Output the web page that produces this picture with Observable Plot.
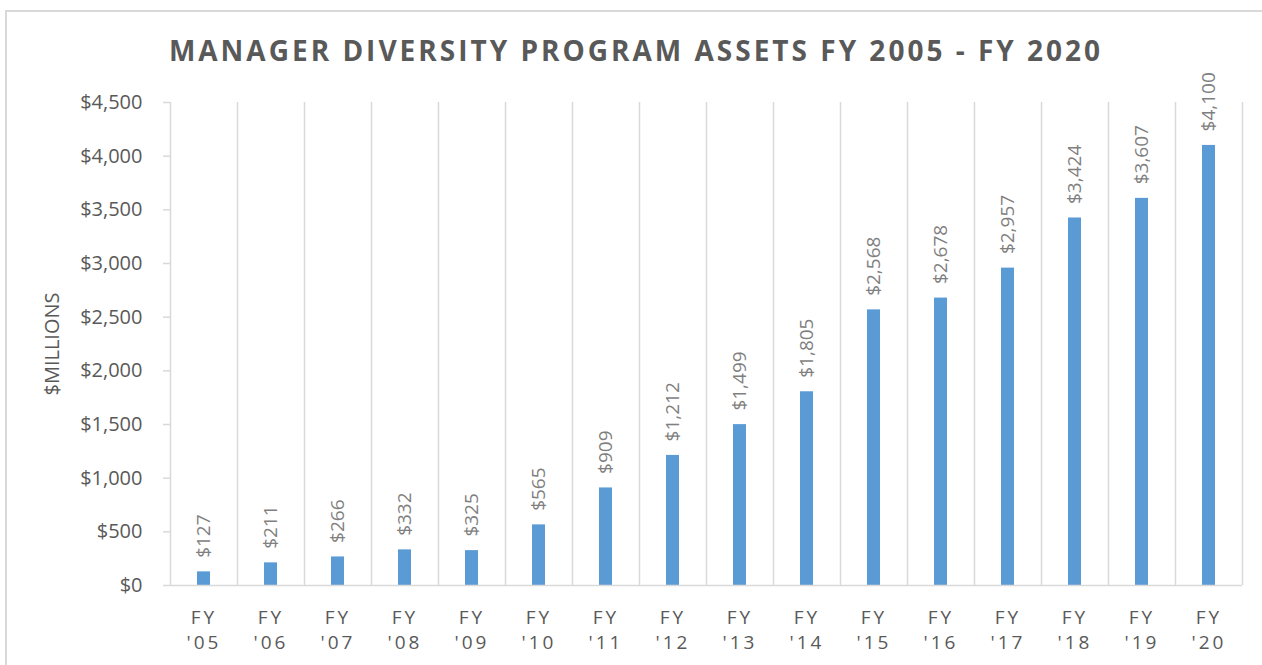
<!DOCTYPE html>
<html>
<head>
<meta charset="utf-8">
<script src="https://cdn.jsdelivr.net/npm/d3@7"></script>
<script src="https://cdn.jsdelivr.net/npm/@observablehq/plot@0.6"></script>
<style>
html, body { margin: 0; padding: 0; background: #fff; }
#wrap { position: relative; width: 1262px; height: 665px; overflow: hidden; font-family: "Open Sans", sans-serif; }
#border { position: absolute; left: 5px; top: 10px; width: 1300px; height: 700px; border: 2px solid #d9d9d9; box-sizing: border-box; pointer-events: none; }
#title { position: absolute; left: 0; top: 30px; width: 1272px; text-align: center; font-weight: 700; font-size: 28px; letter-spacing: 3px; color: #595959; line-height: 40px; white-space: nowrap; }
</style>
</head>
<body>
<div id="wrap">
  <div id="chart"></div>
  <div id="border"></div>
  <div id="title"></div>
</div>
<script>
const titleText = "MANAGER DIVERSITY PROGRAM ASSETS FY 2005 - FY 2020";
const yLabel = "$MILLIONS";
const years = ["FY '05", "FY '06", "FY '07", "FY '08", "FY '09", "FY '10", "FY '11", "FY '12",
               "FY '13", "FY '14", "FY '15", "FY '16", "FY '17", "FY '18", "FY '19", "FY '20"];
const assets = [127, 211, 266, 332, 325, 565, 909, 1212, 1499, 1805, 2568, 2678, 2957, 3424, 3607, 4100];
const yTicks = [0, 500, 1000, 1500, 2000, 2500, 3000, 3500, 4000, 4500];

document.getElementById("title").textContent = titleText;

const W = 1262, H = 665, mL = 170, mR = 20, mT = 102, mB = 80;
const step = (W - mL - mR) / years.length;
const data = years.map((y, i) => ({year: y, value: assets[i]}));
const money = d => "$" + d3.format(",")(d);
const grid = "#d9d9d9";

const plot = Plot.plot({
  width: W, height: H,
  marginLeft: mL, marginRight: mR, marginTop: mT, marginBottom: mB,
  style: {fontFamily: "'Open Sans', sans-serif", background: "transparent", overflow: "visible"},
  x: {domain: years, paddingInner: 0.81, paddingOuter: 0.405, label: null},
  y: {domain: [0, 4500], label: null},
  marks: [
    Plot.ruleX(years, {x: d => d, dx: -step / 2, stroke: grid, strokeWidth: 1.5}),
    Plot.ruleX([years[years.length - 1]], {x: d => d, dx: step / 2, stroke: grid, strokeWidth: 1.5}),
    Plot.barY(data, {x: "year", y: "value", fill: "#5b9bd5"}),
    Plot.ruleY([0], {stroke: grid, strokeWidth: 1.5}),
    Plot.axisY({ticks: yTicks, tickSize: 7, tickPadding: 21, tickFormat: money, fontSize: 20,
                stroke: grid, strokeWidth: 1.5, fill: "#595959", label: null}),
    Plot.axisX({tickSize: 0, tickPadding: 21, tickFormat: d => d.replace(" ", "\n"), fontSize: 19,
                lineHeight: 1.32, fill: "#595959", label: null}),
    Plot.text(data, {x: "year", y: "value", text: d => money(d.value), rotate: -90, textAnchor: "start",
                     dy: -14, fontSize: 19, fill: "#7f7f7f"}),
    Plot.text([yLabel], {text: d => d, frameAnchor: "left", textAnchor: "middle", rotate: -90, dx: -118,
                         fontSize: 20, fill: "#595959"})
  ]
});

d3.select(plot).selectAll('g[aria-label="x-axis tick label"] text').style("letter-spacing", "3px");
document.getElementById("chart").appendChild(plot);
</script>
</body>
</html>
